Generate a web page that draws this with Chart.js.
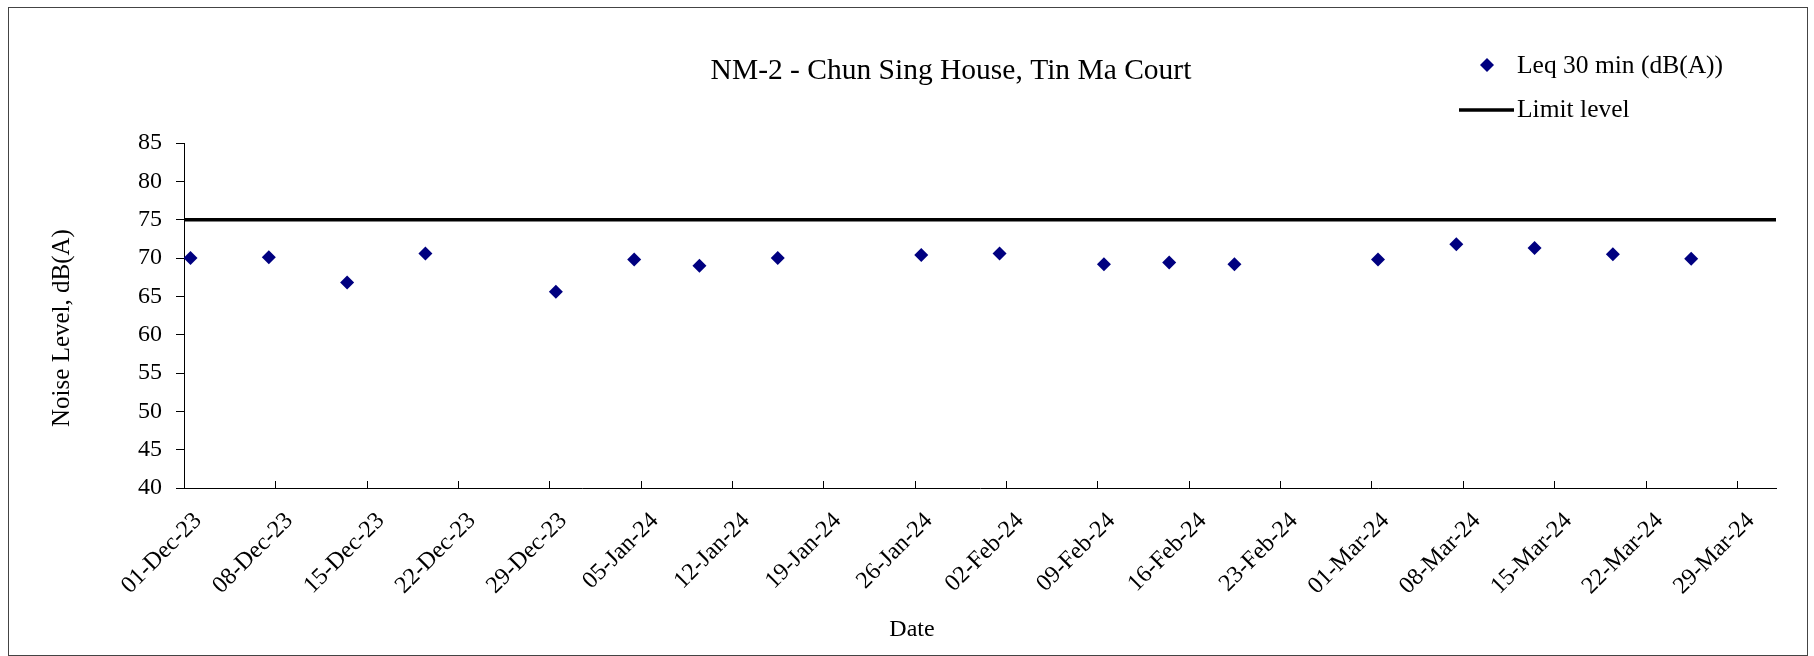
<!DOCTYPE html>
<html>
<head>
<meta charset="utf-8">
<script src="https://cdn.jsdelivr.net/npm/chart.js@4.4.1/dist/chart.umd.min.js"></script>
<style>
body{margin:0;background:#fff}
#wrap{position:absolute;left:0;top:0;width:1814px;height:656px}
#frame{position:absolute;left:8px;top:7px;width:1798px;height:647px;border:1px solid #444;pointer-events:none}
</style>
</head>
<body>
<div id="wrap"><canvas id="noiseChart"></canvas></div>
<div id="frame"></div>
<script>
let chartTitle="NM-2 - Chun Sing House, Tin Ma Court"
let seriesName="Leq 30 min (dB(A))"
let limitName="Limit level"
let yTitle="Noise Level, dB(A)"
let xTitle="Date"

let axisStart="2023-12-01 00:00"
let axisEnd="2024-04-01 00:00"

let sampleDates=[
"2023-12-01 12:00","2023-12-07 12:00","2023-12-13 12:00","2023-12-19 12:00",
"2023-12-29 12:00","2024-01-04 12:00","2024-01-09 12:00","2024-01-15 12:00",
"2024-01-26 12:00","2024-02-01 12:00","2024-02-09 12:00","2024-02-14 12:00",
"2024-02-19 12:00","2024-03-01 12:00","2024-03-07 12:00","2024-03-13 12:00",
"2024-03-19 12:00","2024-03-25 12:00"
]
let leqValues=[70.0,70.1,66.8,70.6,65.6,69.8,69.0,70.0,70.4,70.6,69.2,69.4,69.2,69.8,71.8,71.3,70.5,69.9]

let limitLevel=75

let tickLabels=["01-Dec-23","08-Dec-23","15-Dec-23","22-Dec-23","29-Dec-23","05-Jan-24","12-Jan-24",
"19-Jan-24","26-Jan-24","02-Feb-24","09-Feb-24","16-Feb-24","23-Feb-24","01-Mar-24","08-Mar-24",
"15-Mar-24","22-Mar-24","29-Mar-24"]

let yMin=40
let yMax=85
let yStep=5

function toMs(s){
let p=s.split(/[- :]/).map(Number)
return Date.UTC(p[0],p[1]-1,p[2],p[3],p[4])
}
function dayOffset(s){
return (toMs(s)-toMs(axisStart))/86400000
}

let points=sampleDates.map((d,i)=>({x:dayOffset(d),y:leqValues[i]}))
let limitPoints=[{x:0,y:limitLevel},{x:dayOffset(axisEnd),y:limitLevel}]

let serif="'Liberation Serif','Times New Roman',serif"

/* inward x ticks, title, axis titles and legend */
let decorPlugin={
id:"decor",
afterDraw(chart){
let ctx=chart.ctx
let xs=chart.scales.x
let area=chart.chartArea
ctx.save()
ctx.strokeStyle="#000"
ctx.lineWidth=1
xs.ticks.forEach(t=>{
let px=Math.round(xs.getPixelForValue(t.value))+0.5
ctx.beginPath()
ctx.moveTo(px,area.bottom)
ctx.lineTo(px,area.bottom-7)
ctx.stroke()
})

ctx.fillStyle="#000"
ctx.textBaseline="alphabetic"
ctx.textAlign="center"
ctx.font="29.5px "+serif
ctx.fillText(chartTitle,951,79)

ctx.font="24px "+serif
ctx.fillText(xTitle,912,636)

ctx.save()
ctx.translate(69,328)
ctx.rotate(-Math.PI/2)
ctx.font="25px "+serif
ctx.fillText(yTitle,0,0)
ctx.restore()

let ds=chart.data.datasets
let r=ds[0].pointRadius
ctx.fillStyle=ds[0].backgroundColor
ctx.beginPath()
ctx.moveTo(1487,65-r)
ctx.lineTo(1487+r,65)
ctx.lineTo(1487,65+r)
ctx.lineTo(1487-r,65)
ctx.closePath()
ctx.fill()

ctx.strokeStyle=ds[1].borderColor
ctx.lineWidth=ds[1].borderWidth
ctx.beginPath()
ctx.moveTo(1459,110)
ctx.lineTo(1514,110)
ctx.stroke()

ctx.fillStyle="#000"
ctx.textAlign="left"
ctx.font="25.5px "+serif
ctx.fillText(ds[0].label,1517,73)
ctx.fillText(ds[1].label,1517,117)
ctx.restore()
}
}

let noiseChart=new Chart(document.getElementById("noiseChart"),{
type:"scatter",
data:{
datasets:[{
label:seriesName,
data:points,
pointStyle:"rectRot",
pointRadius:7,
pointHoverRadius:7,
backgroundColor:"#000080",
borderColor:"#000080",
borderWidth:0
},{
type:"line",
label:limitName,
data:limitPoints,
borderColor:"#000",
borderWidth:3.5,
pointRadius:0,
pointHoverRadius:0,
fill:false
}]
},
options:{
responsive:true,
maintainAspectRatio:false,
animation:false,
events:[],
layout:{padding:{left:0,top:143,right:38,bottom:0}},
plugins:{
legend:{display:false},
title:{display:false},
tooltip:{enabled:false}
},
scales:{
x:{
type:"linear",
min:0,
max:dayOffset(axisEnd),
grid:{display:false,drawTicks:false},
border:{display:true,color:"#000",width:1},
afterFit(s){s.height=168},
ticks:{
stepSize:7,
includeBounds:false,
autoSkip:false,
maxTicksLimit:30,
minRotation:45,
maxRotation:45,
padding:19,
labelOffset:14,
color:"#000",
font:{family:serif,size:24},
callback:v=>tickLabels[Math.round(v/7)]
}
},
y:{
min:yMin,
max:yMax,
grid:{display:true,drawOnChartArea:false,drawTicks:true,tickLength:8,color:"#000"},
border:{display:true,color:"#000",width:1},
afterFit(s){s.width=184},
ticks:{
stepSize:yStep,
padding:14,
color:"#000",
font:{family:serif,size:24}
}
}
}
},
plugins:[decorPlugin]
})
</script>
</body>
</html>
